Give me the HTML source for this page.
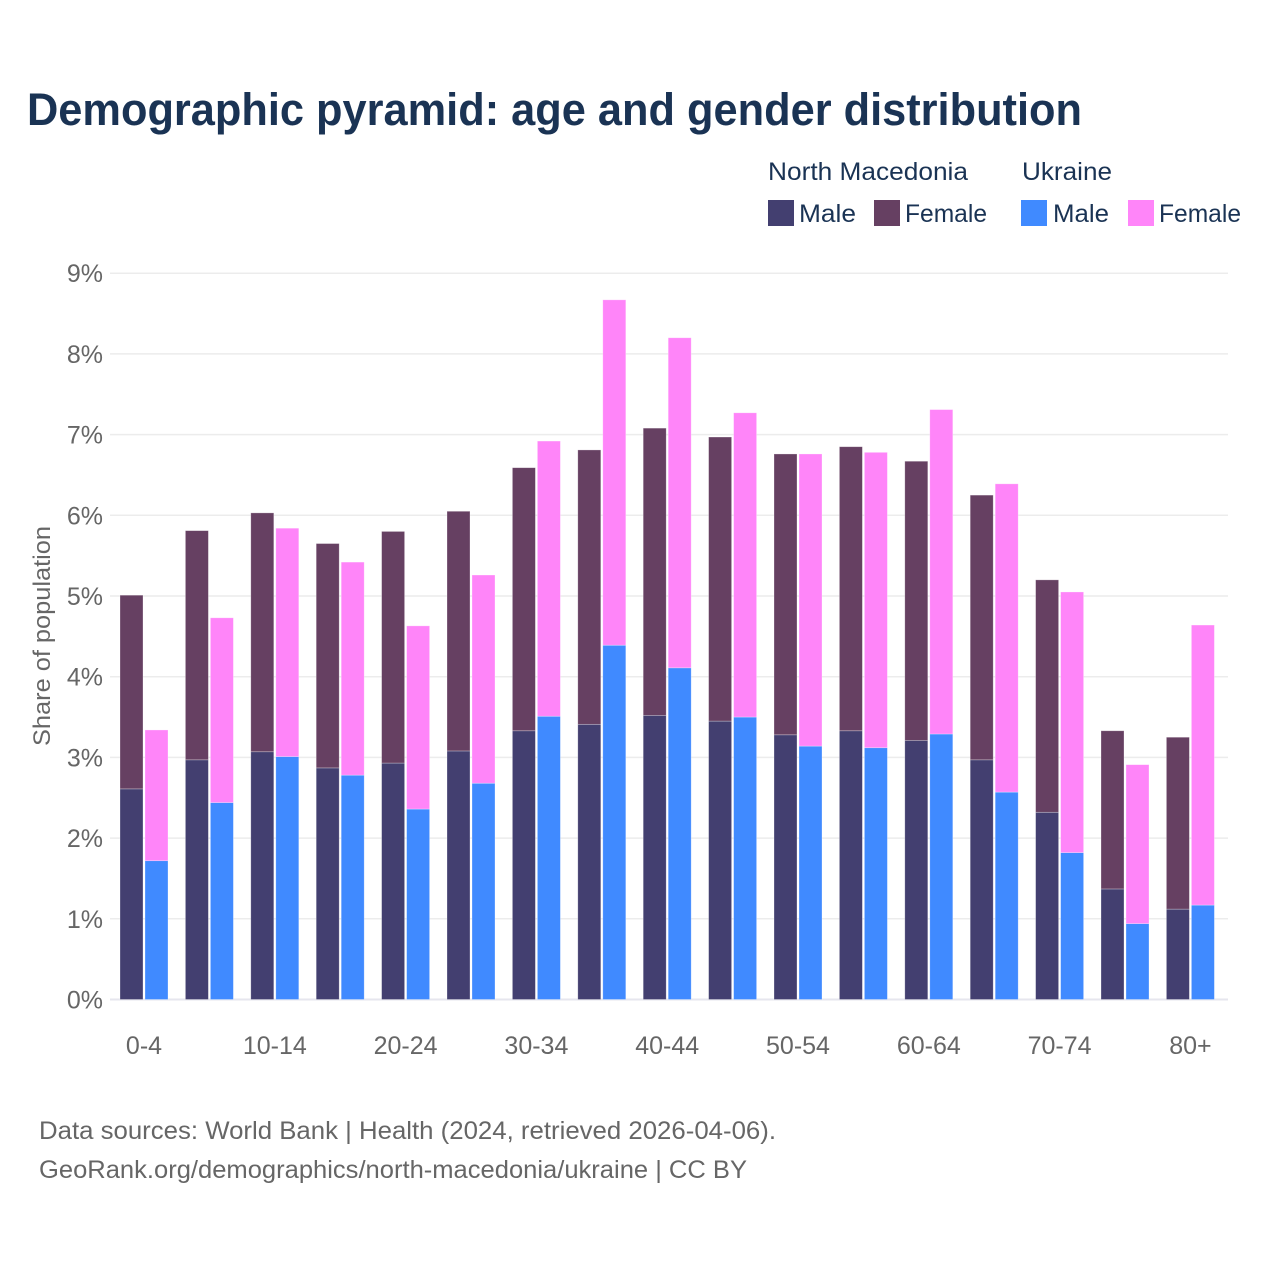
<!DOCTYPE html>
<html lang="en">
<head>
<meta charset="utf-8">
<title>Demographic pyramid: age and gender distribution</title>
<style>
html,body{margin:0;padding:0;background:#fff;width:1280px;height:1280px;overflow:hidden}
svg{display:block;font-family:"Liberation Sans",sans-serif}
</style>
</head>
<body>
<svg id="chart" xmlns="http://www.w3.org/2000/svg" width="1280" height="1280" viewBox="0 0 1280 1280">
  <rect width="1280" height="1280" fill="#fff"/>
  <text x="27" y="125" font-size="45" font-weight="700" fill="#1a3354" textLength="1055" lengthAdjust="spacingAndGlyphs">Demographic pyramid: age and gender distribution</text>

  <g font-size="25" fill="#1a3354">
    <text x="768" y="180" textLength="200" lengthAdjust="spacingAndGlyphs">North Macedonia</text>
    <text x="1022" y="180" textLength="90" lengthAdjust="spacingAndGlyphs">Ukraine</text>
    <rect x="768" y="200" width="26" height="26" fill="#433f70"/>
    <text x="799" y="222" textLength="57" lengthAdjust="spacingAndGlyphs">Male</text>
    <rect x="874" y="200" width="26" height="26" fill="#664062"/>
    <text x="905" y="222" textLength="82" lengthAdjust="spacingAndGlyphs">Female</text>
    <rect x="1021" y="200" width="26" height="26" fill="#408aff"/>
    <text x="1053" y="222" textLength="56" lengthAdjust="spacingAndGlyphs">Male</text>
    <rect x="1128" y="200" width="26" height="26" fill="#ff85f9"/>
    <text x="1159" y="222" textLength="82" lengthAdjust="spacingAndGlyphs">Female</text>
  </g>

  <g id="grid"></g>
  <g id="yticks"></g>
  <g id="bars"></g>
  <g id="xticks"></g>

  <text transform="translate(50,636) rotate(-90)" text-anchor="middle" font-size="24" fill="#666" textLength="220" lengthAdjust="spacingAndGlyphs">Share of population</text>

  <g font-size="25" fill="#666">
    <text x="39" y="1139" textLength="737" lengthAdjust="spacingAndGlyphs">Data sources: World Bank | Health (2024, retrieved 2026-04-06).</text>
    <text x="39" y="1178" textLength="708" lengthAdjust="spacingAndGlyphs">GeoRank.org/demographics/north-macedonia/ukraine | CC BY</text>
  </g>
</svg>
<script>
const categories = ["0-4","5-9","10-14","15-19","20-24","25-29","30-34","35-39","40-44","45-49","50-54","55-59","60-64","65-69","70-74","75-79","80+"];
const tickLabels = ["0-4","10-14","20-24","30-34","40-44","50-54","60-64","70-74","80+"];
const yTicks = [0,1,2,3,4,5,6,7,8,9];
const northMacedoniaMale = [2.61,2.97,3.07,2.87,2.93,3.08,3.33,3.41,3.52,3.45,3.28,3.33,3.21,2.97,2.32,1.37,1.12];
const northMacedoniaFemale = [2.40,2.84,2.96,2.78,2.87,2.97,3.26,3.40,3.56,3.52,3.48,3.52,3.46,3.28,2.88,1.96,2.13];
const ukraineMale = [1.72,2.44,3.01,2.78,2.36,2.68,3.51,4.39,4.11,3.50,3.14,3.12,3.29,2.57,1.82,0.94,1.17];
const ukraineFemale = [1.62,2.29,2.83,2.64,2.27,2.58,3.41,4.28,4.09,3.77,3.62,3.66,4.02,3.82,3.23,1.97,3.47];

const NS = "http://www.w3.org/2000/svg";
const yScale = v => 999.5 - v * 80.7;
const xBand = i => 120 + i * 65.4;
const barWidth = 23;
const barOffset = 25;

function make(parent, tag, attrs) {
  const el = document.createElementNS(NS, tag);
  for (const k in attrs) el.setAttribute(k, attrs[k]);
  parent.appendChild(el);
  return el;
}

const grid = document.getElementById("grid");
const yticks = document.getElementById("yticks");
yTicks.forEach(t => {
  const line = make(grid, "line", {x1:110, x2:1228, y1:yScale(t), y2:yScale(t), stroke:t === 0 ? "#e6e6ee" : "#ececec", "stroke-width":t === 0 ? 2 : 1.5});
  
  
  const label = make(yticks, "text", {x:103, y:yScale(t) + 9, "text-anchor":"end", "font-size":25, fill:"#666"});
  
  
  label.textContent = t + "%";
});

const bars = document.getElementById("bars");
function drawBar(i, offset, base, value, color, seriesName) {
  const rect = make(bars, "rect", {
    x: xBand(i) + offset,
    y: yScale(base + value),
    width: barWidth,
    height: yScale(base) - yScale(base + value),
    fill: color,
    stroke: "#fff",
    "stroke-opacity": 0.4,
    "stroke-width": 0.7
  });
  
  
  rect.setAttribute('aria-label', seriesName + " " + categories[i]);
}
categories.forEach((c, i) => {
  drawBar(i, 0, 0, northMacedoniaMale[i], "#433f70", "north-macedonia-male");
  drawBar(i, 0, northMacedoniaMale[i], northMacedoniaFemale[i], "#664062", "north-macedonia-female");
  drawBar(i, barOffset, 0, ukraineMale[i], "#408aff", "ukraine-male");
  drawBar(i, barOffset, ukraineMale[i], ukraineFemale[i], "#ff85f9", "ukraine-female");
});

const xticks = document.getElementById("xticks");
categories.forEach((c, i) => {
  if (!tickLabels.includes(c)) return;
  const label = make(xticks, "text", {x:xBand(i) + 24, y:1054, "text-anchor":"middle", "font-size":25, fill:"#666"});
  
  
  label.textContent = c;
});
</script>
</body>
</html>
